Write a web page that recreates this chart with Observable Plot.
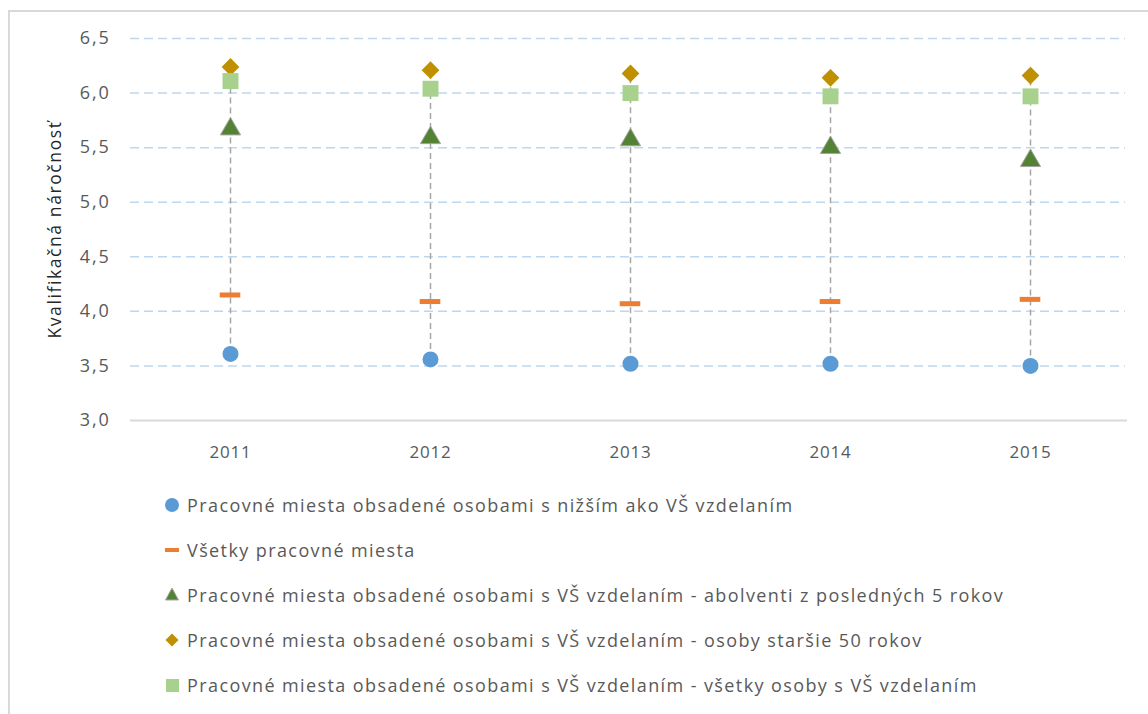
<!DOCTYPE html>
<html>
<head>
<meta charset="utf-8">
<script src="https://cdn.jsdelivr.net/npm/d3@7"></script>
<script src="https://cdn.jsdelivr.net/npm/@observablehq/plot@0.6"></script>
<style>
  html, body { margin: 0; padding: 0; background: #fff; }
  body { width: 1148px; height: 714px; position: relative; overflow: hidden; font-family: "Open Sans", sans-serif; }
  #frame { position: absolute; left: 8px; top: 10px; width: 1200px; height: 800px; border-left: 2px solid #d9d9d9; border-top: 2px solid #d9d9d9; }
  #chart { position: absolute; left: 0; top: 0; }
  #legend { position: absolute; left: 160px; top: 482px; }
  .row { height: 45.2px; display: flex; align-items: center; font-size: 18px; color: #595959; letter-spacing: 1.4px; white-space: nowrap; }
  .row svg { width: 24px; height: 24px; margin-right: 3px; flex: none; }
  #chart g[aria-label="y-axis tick label"] text { font-size: 18px; letter-spacing: 1.8px; }
  #chart g[aria-label="x-axis tick label"] text { font-size: 17px; letter-spacing: 0.8px; }
  #chart g[aria-label="y-axis label"] text { font-size: 17.5px; letter-spacing: 1.6px; fill: #262626; }
</style>
</head>
<body>
<div id="frame"></div>
<div id="chart"></div>
<div id="legend"></div>
<script>
const years = ["2011", "2012", "2013", "2014", "2015"];
const seriesNames = [
  "Pracovné miesta obsadené osobami s nižším ako VŠ vzdelaním",
  "Všetky pracovné miesta",
  "Pracovné miesta obsadené osobami s VŠ vzdelaním - abolventi z posledných 5 rokov",
  "Pracovné miesta obsadené osobami s VŠ vzdelaním - osoby staršie 50 rokov",
  "Pracovné miesta obsadené osobami s VŠ vzdelaním - všetky osoby s VŠ vzdelaním"
];
const nizsie   = [3.61, 3.56, 3.52, 3.52, 3.50];
const vsetky   = [4.15, 4.09, 4.07, 4.09, 4.11];
const absolv   = [5.67, 5.59, 5.57, 5.50, 5.38];
const starsie  = [6.24, 6.21, 6.18, 6.14, 6.16];
const vsVsetky = [6.11, 6.04, 6.00, 5.97, 5.97];
const yTicks = [3.0, 3.5, 4.0, 4.5, 5.0, 5.5, 6.0, 6.5];

const rows = (vals) => years.map((y, i) => ({year: y, value: vals[i]}));
const ranges = years.map((y, i) => {
  const v = [nizsie[i], vsetky[i], absolv[i], starsie[i], vsVsetky[i]];
  return {year: y, lo: d3.min(v), hi: d3.max(v)};
});

const fmt = d => d.toFixed(1).replace(".", ",");

const chart = Plot.plot({
  width: 1148,
  height: 440,
  marginLeft: 130,
  marginRight: 18,
  marginTop: 38,
  marginBottom: 20,
  style: {fontFamily: "Open Sans, sans-serif", fontSize: "17px", color: "#595959", background: "transparent", overflow: "visible"},
  x: {type: "band", domain: years, padding: 0},
  y: {domain: [3.0, 6.5]},
  marks: [
    Plot.ruleY(yTicks.filter(t => t > 3), {stroke: "#bdd7ee", strokeWidth: 1.5, strokeDasharray: "9,5", strokeOpacity: 1, insetRight: 5}),
    Plot.ruleY([3.0], {stroke: "#d9d9d9", strokeWidth: 2, insetRight: 3}),
    Plot.axisY({ticks: yTicks, tickFormat: fmt, tickSize: 0, tickPadding: 20, label: null}),
    Plot.axisY({ticks: [], label: "Kvalifikačná náročnosť", labelAnchor: "center", labelArrow: "none", labelOffset: 82}),
    Plot.axisX({tickSize: 0, tickPadding: 25, label: null}),
    Plot.ruleX(ranges, {x: "year", y1: "lo", y2: "hi", stroke: "#a6a6a6", strokeWidth: 1.5, strokeDasharray: "6,4"}),
    Plot.dot(rows(nizsie), {x: "year", y: "value", r: 8, fill: "#5b9bd5", symbol: "circle"}),
    Plot.tickY(rows(vsetky), {x: "year", y: "value", stroke: "#ed7d31", strokeWidth: 5, insetLeft: 89.7, insetRight: 89.7}),
    Plot.dot(rows(absolv), {x: "year", y: "value", r: 7.5, fill: "#548235", stroke: "#a5a5a5", strokeWidth: 1, symbol: "triangle"}),
    Plot.dot(rows(starsie), {x: "year", y: "value", r: 8, fill: "#bf9000", symbol: "diamond2"}),
    Plot.dot(rows(vsVsetky), {x: "year", y: "value", r: 9, fill: "#a9d18e", symbol: "square"})
  ]
});
document.getElementById("chart").appendChild(chart);

// Legend
const legendMarks = [
  '<circle cx="12" cy="12" r="7" fill="#5b9bd5"/>',
  '<rect x="5" y="10" width="14" height="4" fill="#ed7d31"/>',
  '<path d="M12,5 L18.5,17 L5.5,17 Z" fill="#548235" stroke="#a5a5a5" stroke-width="1"/>',
  '<path d="M12,5.5 L18.5,12 L12,18.5 L5.5,12 Z" fill="#bf9000"/>',
  '<rect x="6" y="6" width="13" height="13" fill="#a9d18e"/>'
];
const legend = document.getElementById("legend");
seriesNames.forEach((name, i) => {
  const row = document.createElement("div");
  row.className = "row";
  row.innerHTML = `<svg viewBox="0 0 24 24">${legendMarks[i]}</svg><span>${name}</span>`;
  legend.appendChild(row);
});
</script>
</body>
</html>
